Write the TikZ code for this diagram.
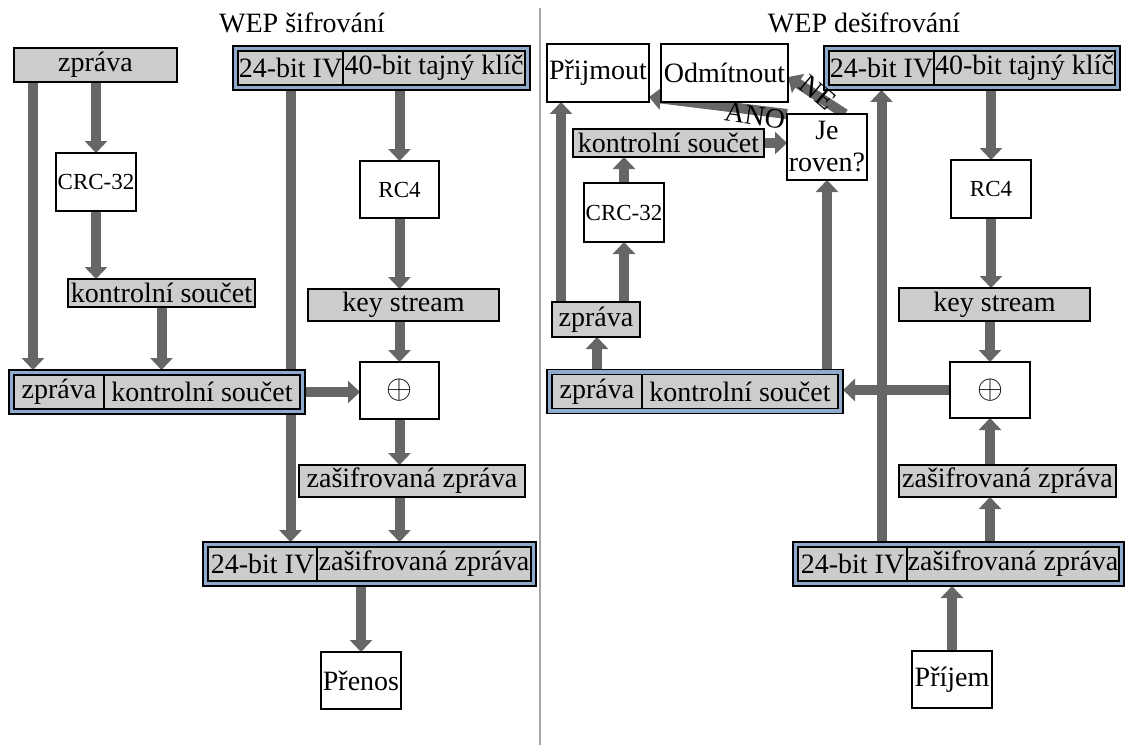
\RequirePackage{fix-cm}
\documentclass[tikz,border=0pt]{standalone}
\usepackage{fontspec}
\setmainfont{Liberation Serif}
\usepackage{tikz}
\usetikzlibrary{arrows.meta,positioning,backgrounds}
\definecolor{cellgray}{RGB}{204,204,204}
\definecolor{frameblue}{RGB}{143,170,205}
\definecolor{arrgray}{RGB}{102,102,102}
\definecolor{divgray}{RGB}{166,166,166}
\newcommand{\xorsym}{\resizebox{26pt}{!}{$\oplus$}}
\tikzset{
  cellbox/.style={draw=black, line width=1.3pt, inner sep=0pt, outer sep=0pt, font=\rmfamily\fontsize{28}{32}\selectfont},
  gbox/.style={cellbox, fill=cellgray},
  wbox/.style={cellbox, fill=white},
  dblbox/.style={draw=black, line width=1.8pt, fill=frameblue, inner sep=0pt, outer sep=0pt},
  smalltxt/.style={font=\rmfamily\fontsize{23}{27}\selectfont},
  lbl/.style={font=\rmfamily\fontsize{28}{32}\selectfont, inner sep=0pt},
  arr/.style={draw=arrgray, line width=10pt, -{Triangle[width=22pt,length=12pt]}}
}
\begin{document}
\begin{tikzpicture}[x=1pt,y=-1pt]
\useasboundingbox (0,0) rectangle (1126,749);
\draw[divgray, line width=2pt] (540,8) -- (540,745);

\node[lbl, anchor=base] (titleL) at (302,33) {WEP šifrování};
\node[gbox, minimum width=163pt, minimum height=34pt] (zpravaL) at (95.5,65) {zpráva};
\node[dblbox, minimum width=297pt, minimum height=44pt] (kframeL) at (381.5,68) {};
\node[gbox, anchor=west, minimum width=105pt, minimum height=34pt] (kivL) at ([xshift=5pt]kframeL.west) {24-bit IV};
\node[gbox, right=0pt of kivL, minimum width=182pt, minimum height=34pt] (kkeyL) {40-bit tajný klíč};
\node[wbox, smalltxt, minimum width=80pt, minimum height=58pt] (crcL) at (96,182) {CRC-32};
\node[wbox, smalltxt, minimum width=79pt, minimum height=57pt] (rc4L) at (399.5,189.5) {RC4};
\node[gbox, minimum width=187pt, minimum height=28pt] (ksumL) at (161.5,293) {kontrolní součet};
\node[gbox, minimum width=191pt, minimum height=32pt] (streamL) at (403.5,305) {key stream};
\node[dblbox, minimum width=296pt, minimum height=44pt] (cframeL) at (157,392) {};
\node[gbox, anchor=west, minimum width=90pt, minimum height=34pt] (czpravaL) at ([xshift=5pt]cframeL.west) {zpráva};
\node[gbox, right=0pt of czpravaL, minimum width=196pt, minimum height=34pt] (csumL) {kontrolní součet};
\node[wbox, minimum width=79pt, minimum height=57pt] (xorL) at (399.5,390.5) {\xorsym};
\node[gbox, minimum width=226pt, minimum height=32pt] (encL) at (412,481) {zašifrovaná zpráva};
\node[dblbox, minimum width=333pt, minimum height=44pt] (bframeL) at (369.5,564) {};
\node[gbox, anchor=west, minimum width=109pt, minimum height=34pt] (bivL) at ([xshift=5pt]bframeL.west) {24-bit IV};
\node[gbox, right=0pt of bivL, minimum width=214pt, minimum height=34pt] (bencL) {zašifrovaná zpráva};
\node[wbox, minimum width=80pt, minimum height=57pt] (prenos) at (361,680.5) {Přenos};
\coordinate (zl) at ([xshift=19pt]zpravaL.south west);

\node[lbl, anchor=base] (titleR) at (864,33) {WEP dešifrování};
\node[wbox, minimum width=102pt, minimum height=58pt] (prijmout) at (598,73) {Přijmout};
\node[wbox, minimum width=127pt, minimum height=58pt] (odmitnout) at (724.5,73) {Odmítnout};
\node[dblbox, minimum width=296pt, minimum height=44pt] (kframeR) at (972,68) {};
\node[gbox, anchor=west, minimum width=105pt, minimum height=34pt] (kivR) at ([xshift=5pt]kframeR.west) {24-bit IV};
\node[gbox, right=0pt of kivR, minimum width=181pt, minimum height=34pt] (kkeyR) {40-bit tajný klíč};
\node[gbox, minimum width=191pt, minimum height=28pt] (ksumR) at (668.5,143) {kontrolní součet};
\node[wbox, align=center, minimum width=80pt, minimum height=66pt] (rovno) at (827,147) {Je\\roven?};
\node[wbox, smalltxt, minimum width=80pt, minimum height=59pt] (crcR) at (624,212.5) {CRC-32};
\node[wbox, smalltxt, minimum width=80pt, minimum height=58pt] (rc4R) at (991,189) {RC4};
\node[gbox, minimum width=88pt, minimum height=35pt] (zpravaR) at (596,319.5) {zpráva};
\node[gbox, minimum width=191pt, minimum height=33pt] (streamR) at (994.5,304.5) {key stream};
\node[dblbox, minimum width=296pt, minimum height=44pt] (cframeR) at (695,391.5) {};
\node[gbox, anchor=west, minimum width=90pt, minimum height=34pt] (czpravaR) at ([xshift=5pt]cframeR.west) {zpráva};
\node[gbox, right=0pt of czpravaR, minimum width=196pt, minimum height=34pt] (csumR) {kontrolní součet};
\node[wbox, minimum width=80pt, minimum height=56pt] (xorR) at (990,390) {\xorsym};
\node[gbox, minimum width=217pt, minimum height=32pt] (encR) at (1007.5,481) {zašifrovaná zpráva};
\node[dblbox, minimum width=331pt, minimum height=44pt] (bframeR) at (958.5,564) {};
\node[gbox, anchor=west, minimum width=109pt, minimum height=34pt] (bivR) at ([xshift=5pt]bframeR.west) {24-bit IV};
\node[gbox, right=0pt of bivR, minimum width=212pt, minimum height=34pt] (bencR) {zašifrovaná zpráva};
\node[wbox, minimum width=80pt, minimum height=57pt] (prijem) at (952,679.5) {Příjem};
\coordinate (zr) at ([xshift=9pt]zpravaR.north west);
\node[lbl, rotate=-8] (ano) at (755,116) {ANO};
\node[lbl, rotate=-40] (ne) at (818,92) {NE};

\begin{scope}[on background layer]
\draw[arr] (zl) -- (zl |- cframeL.north);
\draw[arr] (crcL.north |- zpravaL.south) -- (crcL.north);
\draw[arr] (crcL.south) -- (crcL.south |- ksumL.north);
\draw[arr] (ksumL.south) -- (ksumL.south |- cframeL.north);
\draw[arr] (kivL.south) -- (kivL.south |- bframeL.north);
\draw[arr] (rc4L.north |- kframeL.south) -- (rc4L.north);
\draw[arr] (rc4L.south) -- (rc4L.south |- streamL.north);
\draw[arr] (xorL.north |- streamL.south) -- (xorL.north);
\draw[arr] (cframeL.east) -- (xorL.west |- cframeL.east);
\draw[arr] (xorL.south) -- (xorL.south |- encL.north);
\draw[arr] (xorL.south |- encL.south) -- (xorL.south |- bframeL.north);
\draw[arr] (prenos.north |- bframeL.south) -- (prenos.north);

\draw[arr] (prijem.north) -- (prijem.north |- bframeR.south);
\draw[arr] (xorR.south |- bframeR.north) -- (xorR.south |- encR.south);
\draw[arr] (xorR.south |- encR.north) -- (xorR.south);
\draw[arr] (rc4R.north |- kframeR.south) -- (rc4R.north);
\draw[arr] (rc4R.south) -- (rc4R.south |- streamR.north);
\draw[arr] (xorR.north |- streamR.south) -- (xorR.north);
\draw[arr] (xorR.west) -- (xorR.west -| cframeR.east);
\draw[arr] (kivR.south |- bframeR.north) -- (kivR.south |- kframeR.south);
\draw[arr] (czpravaR.north |- cframeR.north) -- (czpravaR.north |- zpravaR.south);
\draw[arr] (crcR.south |- zpravaR.north) -- (crcR.south);
\draw[arr] (crcR.north) -- (crcR.north |- ksumR.south);
\draw[arr] (zr) -- (zr |- prijmout.south);
\draw[arr] (rovno.south |- cframeR.north) -- (rovno.south);
\draw[arr] (ksumR.east) -- (ksumR.east -| rovno.west);
\draw[arr] (rovno.north west) -- ([yshift=-24pt]prijmout.east);
\draw[arr] ([xshift=18pt]rovno.north) -- ([yshift=-4pt]odmitnout.east);
\end{scope}
\end{tikzpicture}
\end{document}
